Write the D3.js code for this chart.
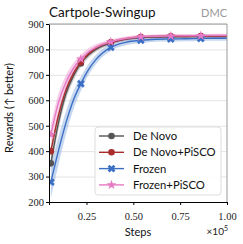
<!DOCTYPE html>
<html>
<head>
<meta charset="utf-8">
<script src="https://cdn.jsdelivr.net/npm/d3@7"></script>
<style>
  body { margin: 0; background: #fff; }
  svg text { font-family: 'Lato', 'DejaVu Sans', sans-serif; }
  .tick text { font-family: 'Liberation Serif', 'DejaVu Serif', serif; font-size: 10.5px; fill: #222; }
</style>
</head>
<body>
<div id="chart"></div>
<script>
// steps (x 1e5) where values were read
let steps = [0.06, 0.10, 0.14, 0.18, 0.22, 0.26, 0.30, 0.38, 0.46, 0.54, 0.62, 0.70, 0.78, 0.86, 0.94, 1.00];
let markerSteps = [0.06, 0.22, 0.38, 0.54, 0.70, 0.86];

let deNovo      = [352, 510, 625, 695, 745, 778, 800, 826, 840, 847, 849, 850, 850, 851, 851, 851];
let deNovoPisco = [400, 540, 640, 705, 750, 782, 805, 828, 842, 849, 851, 852, 852, 853, 853, 853];
let frozen      = [278, 400, 510, 600, 665, 720, 760, 808, 828, 836, 840, 841, 842, 843, 844, 844];
let frozenPisco = [465, 590, 670, 725, 762, 790, 808, 830, 843, 850, 852, 853, 854, 854, 855, 855];

// half width of the shaded band
let deNovoSpread      = [30, 28, 22, 18, 14, 12, 10, 8, 7, 6, 6, 6, 6, 6, 6, 6];
let deNovoPiscoSpread = [18, 16, 14, 12, 10, 9, 8, 7, 6, 6, 6, 6, 6, 6, 6, 6];
let frozenSpread      = [62, 56, 46, 36, 28, 22, 18, 14, 12, 11, 10, 10, 10, 10, 10, 10];
let frozenPiscoSpread = [40, 35, 28, 22, 18, 15, 12, 10, 8, 7, 7, 7, 7, 7, 7, 7];

let seriesNames = ['De Novo', 'De Novo+PiSCO', 'Frozen', 'Frozen+PiSCO'];
let seriesColors = ['#555555', '#a82c2c', '#3b6fc4', '#e67ac4'];
let bandColors = ['#999999', '#cc7777', '#8fb0e2', '#f0a0d6'];
let markerTypes = ['circle', 'circle', 'x', 'star'];

let yTicks = [200, 300, 400, 500, 600, 700, 800, 900];
let xTicks = [0.25, 0.50, 0.75, 1.00];

let series = [deNovo, deNovoPisco, frozen, frozenPisco];
let spreads = [deNovoSpread, deNovoPiscoSpread, frozenSpread, frozenPiscoSpread];

let width = 243, height = 244;
let margin = { top: 24, right: 16, bottom: 42, left: 49 };
let w = width - margin.left - margin.right;
let h = height - margin.top - margin.bottom;

let svg = d3.select('#chart').append('svg')
  .attr('width', width)
  .attr('height', height);
let g = svg.append('g')
  .attr('transform', 'translate(' + margin.left + ',' + margin.top + ')');

let xScale = d3.scaleLinear().domain([0.05, 1.0]).range([0, w]);
let yScale = d3.scaleLinear().domain([200, 900]).range([h, 0]);

// grid
g.append('g')
  .call(d3.axisLeft(yScale).tickValues(yTicks).tickSize(-w).tickFormat(''))
  .call(a => a.select('.domain').remove())
  .selectAll('line')
  .style('stroke', '#e4e4e4');

// clip
g.append('clipPath').attr('id', 'clip')
  .append('rect').attr('width', w).attr('height', h);
let plot = g.append('g').attr('clip-path', 'url(#clip)');

let line = d3.line()
  .x((d, i) => xScale(steps[i]))
  .y(d => yScale(d))
  .curve(d3.curveMonotoneX);

let area = d3.area()
  .x((d, i) => xScale(steps[i]))
  .y0(d => yScale(d[0]))
  .y1(d => yScale(d[1]))
  .curve(d3.curveMonotoneX);

series.forEach((s, k) => {
  plot.append('path')
    .datum(s.map((v, i) => [v - spreads[k][i], v + spreads[k][i]]))
    .attr('d', area)
    .attr('fill', bandColors[k])
    .attr('opacity', 0.5);
});

function drawMarker(sel, type, color, x, y) {
  if (type === 'circle') {
    sel.append('circle').attr('cx', x).attr('cy', y).attr('r', 3.3).attr('fill', color);
  } else if (type === 'x') {
    sel.append('path')
      .attr('d', d3.symbol().type(d3.symbolCross).size(38))
      .attr('transform', 'translate(' + x + ',' + y + ') rotate(45)')
      .attr('fill', color);
  } else {
    sel.append('path')
      .attr('d', d3.symbol().type(d3.symbolStar).size(30))
      .attr('transform', 'translate(' + x + ',' + y + ')')
      .attr('fill', color);
  }
}

series.forEach((s, k) => {
  plot.append('path')
    .datum(s)
    .attr('d', line)
    .attr('fill', 'none')
    .attr('stroke', seriesColors[k])
    .attr('stroke-width', 1.4);
  markerSteps.forEach(ms => {
    let i = steps.indexOf(ms);
    drawMarker(plot, markerTypes[k], seriesColors[k], xScale(ms), yScale(s[i]));
  });
});

// axes
let xAxis = g.append('g')
  .attr('transform', 'translate(0,' + h + ')')
  .call(d3.axisBottom(xScale).tickValues(xTicks).tickSize(3).tickFormat(d3.format('.2f')));
xAxis.selectAll('.tick text').attr('dy', '1.1em');
let yAxis = g.append('g')
  .call(d3.axisLeft(yScale).tickValues(yTicks).tickSize(3).tickFormat(d3.format('d')));
yAxis.selectAll('.tick text').attr('x', -5);

// top/right frame
g.append('line').attr('x1', 0).attr('x2', w).attr('y1', 0).attr('y2', 0)
  .style('stroke', '#999');
g.append('line').attr('x1', w).attr('x2', w).attr('y1', 0).attr('y2', h)
  .style('stroke', '#999');

// labels
svg.append('text')
  .attr('x', margin.left)
  .attr('y', 17)
  .attr('font-size', '13.5px')
  .attr('fill', '#111')
  .text('Cartpole-Swingup');
svg.append('text')
  .attr('x', margin.left + w)
  .attr('y', 17)
  .attr('text-anchor', 'end')
  .attr('font-size', '11px')
  .attr('fill', '#999')
  .text('DMC');
svg.append('text')
  .attr('x', margin.left + w / 2)
  .attr('y', 236)
  .attr('text-anchor', 'middle')
  .attr('font-size', '11px')
  .attr('fill', '#111')
  .text('Steps');
let sci = svg.append('text')
  .attr('x', margin.left + w + 1)
  .attr('y', 235)
  .attr('text-anchor', 'end')
  .attr('font-family', "'Liberation Serif', serif")
  .attr('font-size', '10px')
  .attr('fill', '#222');
sci.append('tspan').text('×10');
sci.append('tspan').attr('dy', -4).attr('font-size', '7px').text('5');
svg.append('text')
  .attr('transform', 'translate(13,108) rotate(-90)')
  .attr('text-anchor', 'middle')
  .attr('font-size', '11px')
  .attr('fill', '#111')
  .text('Rewards (↑ better)');

// legend
let legend = g.append('g').attr('transform', 'translate(' + (95 - margin.left) + ',' + (127 - margin.top) + ')');
legend.append('rect')
  .attr('width', 126)
  .attr('height', 68)
  .attr('rx', 3)
  .attr('fill', 'rgba(255,255,255,0.85)')
  .attr('stroke', '#ddd');
seriesNames.forEach((name, k) => {
  let y = 9 + k * 16.3;
  legend.append('line')
    .attr('x1', 4).attr('x2', 29).attr('y1', y).attr('y2', y)
    .attr('stroke', seriesColors[k]).attr('stroke-width', 1.4);
  drawMarker(legend, markerTypes[k], seriesColors[k], 16.5, y);
  legend.append('text')
    .attr('x', 38)
    .attr('y', y + 4)
    .attr('font-size', '11.3px')
    .attr('fill', '#111')
    .text(name);
});
</script>
</body>
</html>
